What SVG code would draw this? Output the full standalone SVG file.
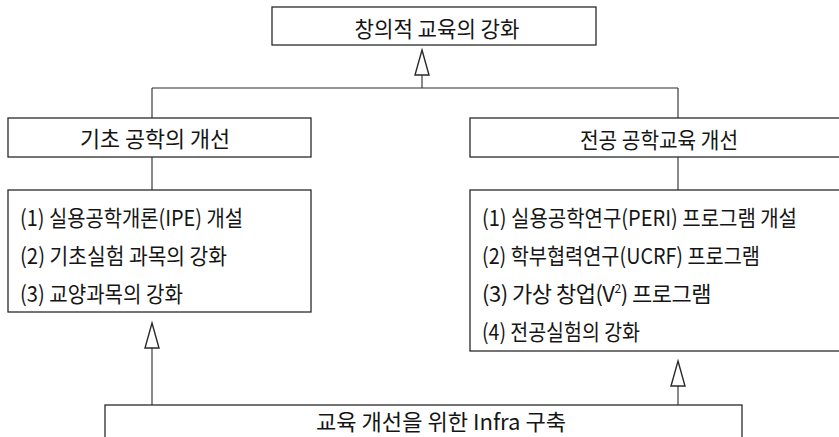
<svg xmlns="http://www.w3.org/2000/svg" width="839" height="437" viewBox="0 0 839 437">
<defs>
<style>
.box{fill:#fff;stroke:#2a2a2a;stroke-width:1.3}
.ln{fill:none;stroke:#2a2a2a;stroke-width:1.1}
.ah{fill:#fff;stroke:#2a2a2a;stroke-width:1.4;stroke-linejoin:miter}
.t{font-family:"Noto Sans CJK KR","Noto Sans",sans-serif;fill:#151515;font-size:22px}
.h{text-anchor:middle}
</style>
</defs>
<rect width="839" height="437" fill="#fff"/>
<g id="connectors">
<path class="ln" d="M152 88 H678"/>
<path class="ln" d="M422 88 V75"/>
<polygon class="ah" points="422,50 429,75 415,75"/>
<path class="ln" d="M152 88 V118 M152 157 V190"/>
<path class="ln" d="M678 88 V118 M678 157 V190"/>
<path class="ln" d="M152 405 V348"/>
<polygon class="ah" points="152,323 159,348 145,348"/>
<path class="ln" d="M678 405 V386"/>
<polygon class="ah" points="678,361 685,386 671,386"/>
</g>
<g id="top">
<rect class="box" x="272" y="7" width="324" height="38"/>
<text class="t h" x="437" y="37" textLength="165" lengthAdjust="spacingAndGlyphs">창의적 교육의 강화</text>
</g>
<g id="basic">
<rect class="box" x="8" y="118" width="303" height="39"/>
<text class="t h" x="155" y="147" textLength="150" lengthAdjust="spacingAndGlyphs">기초 공학의 개선</text>
</g>
<g id="major">
<rect class="box" x="470" y="118" width="380" height="39"/>
<text class="t h" x="659" y="148" textLength="158" lengthAdjust="spacingAndGlyphs">전공 공학교육 개선</text>
</g>
<g id="basic-list">
<rect class="box" x="8" y="190" width="303" height="122"/>
<text class="t" x="20" y="226" textLength="223" lengthAdjust="spacingAndGlyphs">(1) 실용공학개론(IPE) 개설</text>
<text class="t" x="20" y="264" textLength="207" lengthAdjust="spacingAndGlyphs">(2) 기초실험 과목의 강화</text>
<text class="t" x="20" y="302" textLength="163" lengthAdjust="spacingAndGlyphs">(3) 교양과목의 강화</text>
</g>
<g id="major-list">
<rect class="box" x="470" y="190" width="380" height="161"/>
<text class="t" x="482" y="226" textLength="315" lengthAdjust="spacingAndGlyphs">(1) 실용공학연구(PERI) 프로그램 개설</text>
<text class="t" x="482" y="264" textLength="278" lengthAdjust="spacingAndGlyphs">(2) 학부협력연구(UCRF) 프로그램</text>
<text class="t" x="482" y="302" letter-spacing="-0.5">(3) 가상 창업(V<tspan font-size="12" dy="-9">2</tspan><tspan dy="9">) 프로그램</tspan></text>
<text class="t" x="482" y="340" textLength="158" lengthAdjust="spacingAndGlyphs">(4) 전공실험의 강화</text>
</g>
<g id="infra">
<rect class="box" x="105" y="405" width="637" height="50"/>
<text class="t h" x="441" y="430" textLength="250" lengthAdjust="spacingAndGlyphs">교육 개선을 위한 Infra 구축</text>
</g>
</svg>
